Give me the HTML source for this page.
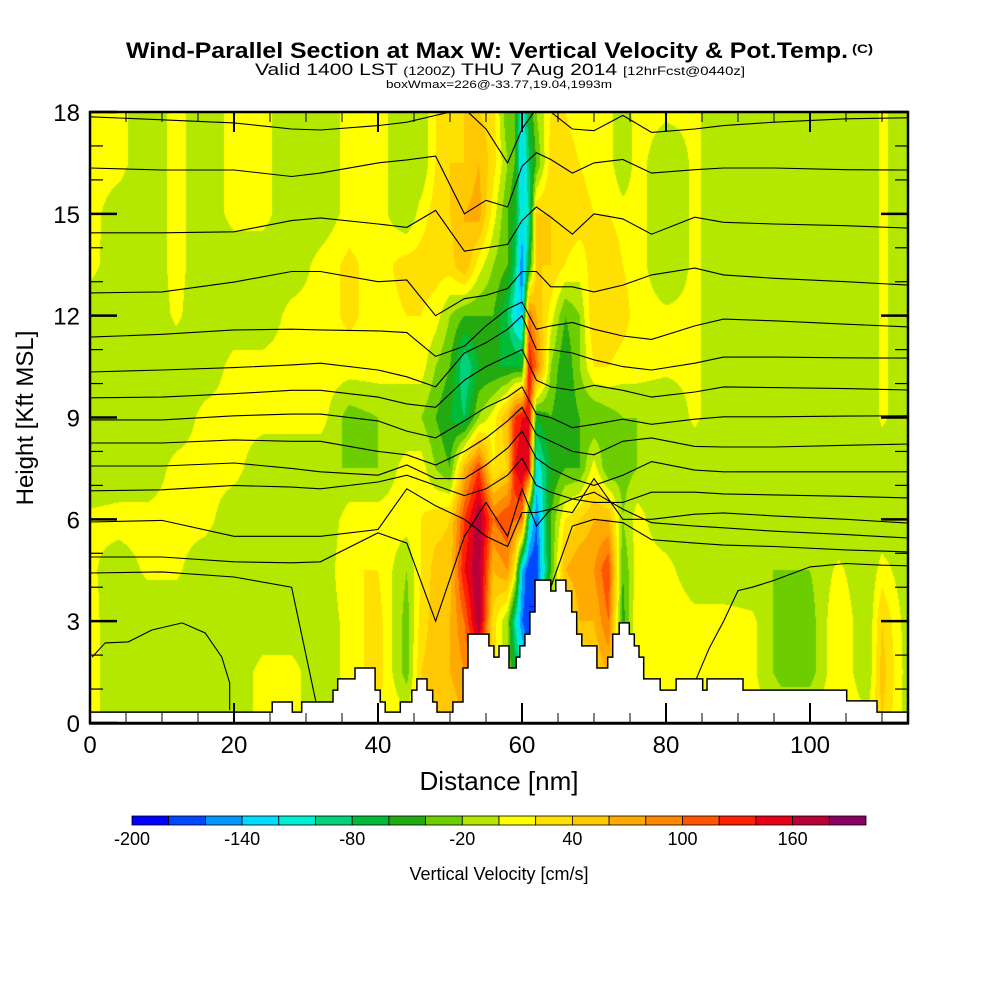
<!DOCTYPE html>
<html><head><meta charset="utf-8">
<style>
html,body{margin:0;padding:0;background:#fff;}
#wrap{position:relative;width:1000px;height:1000px;overflow:hidden;background:#fff;font-family:"Liberation Sans",sans-serif;}
#field{position:absolute;left:90px;top:112px;}
#over{position:absolute;left:0;top:0;}
</style></head>
<body>
<div id="wrap">
<canvas id="field" width="818" height="611"></canvas>
<svg id="over" width="1000" height="1000" xmlns="http://www.w3.org/2000/svg">
  <defs><clipPath id="plotClip"><rect x="90" y="112" width="818" height="611"/></clipPath></defs>
  <g id="contours" clip-path="url(#plotClip)" fill="none" stroke="#000" stroke-width="1.1"></g>
  <path id="terrain" fill="#fff" stroke="#000" stroke-width="1.5"></path>
  <g id="frame"></g>
  <g id="colorbar"></g>
  <text x="126" y="58" textLength="722" lengthAdjust="spacingAndGlyphs" font-size="22" font-weight="bold">Wind-Parallel Section at Max W: Vertical Velocity &amp; Pot.Temp.</text>
  <text x="852" y="53" textLength="21" lengthAdjust="spacingAndGlyphs" font-size="12" font-weight="bold">(C)</text>
  <text x="255" y="75" textLength="490" lengthAdjust="spacingAndGlyphs" font-size="17">Valid 1400 LST <tspan font-size="12">(1200Z)</tspan> THU 7 Aug 2014 <tspan font-size="12">[12hrFcst@0440z]</tspan></text>
  <text x="386" y="88" textLength="226" lengthAdjust="spacingAndGlyphs" font-size="11">boxWmax=226@-33.77,19.04,1993m</text>
  <text x="499" y="790" text-anchor="middle" font-size="26">Distance [nm]</text>
  <text transform="translate(33,418) rotate(-90)" text-anchor="middle" font-size="24">Height [Kft MSL]</text>
  <text x="499" y="880" text-anchor="middle" font-size="18">Vertical Velocity [cm/s]</text>
</svg>
</div>
<script>
// ---------- data ----------
const gridX = [0,4,8,12,16,20,24,28,32,36,40,44,46,48,50,52,54,56,58,59,60,61,62,64,66,68,70,72,74,76,80,84,88,92,96,100,104,108,110,114];
const gridZ = [0,1.5,3,4.5,6,7.5,9,10.5,12,13.5,15,16.5,18];
const wCols = [
[10,10,10,5,5,-20,-20,-20,-20,10,10,10,10],
[-20,-20,-20,-15,10,-20,-20,-20,-20,-20,-15,10,10],
[-20,-20,-20,5,10,-20,-20,-20,-20,-20,-20,-20,-20],
[-20,-20,-20,5,10,10,-20,-20,5,10,10,10,10],
[-20,-20,-20,-20,10,10,10,-20,-20,-20,-20,-20,-20],
[-20,-20,-20,-20,-20,10,10,10,-20,-20,10,10,10],
[10,10,-20,-20,-20,-20,10,10,-20,-20,10,10,10],
[10,10,-20,-20,-20,-20,10,10,10,-20,-20,-20,-20],
[-20,-20,-20,-20,-20,-20,10,10,10,10,-20,-20,-20],
[10,10,10,20,10,-20,-30,10,25,25,10,10,10],
[20,30,30,20,10,-20,-20,10,10,10,10,10,10],
[10,-30,-30,-20,10,10,-20,10,20,30,-20,-20,-20],
[30,40,30,20,20,10,-20,10,20,30,10,-20,-20],
[40,50,50,50,30,-20,-40,-20,10,30,30,20,20],
[40,60,60,50,40,-40,-60,-40,-20,30,40,40,30],
[60,80,100,140,120,60,-80,-100,-40,60,60,40,40],
[60,100,180,180,180,120,-20,-60,-40,10,70,60,40],
[30,30,30,60,100,20,10,-60,-40,-20,10,30,30],
[0,-20,-20,80,120,40,60,-60,-80,-40,-40,-20,-40],
[0,-60,-100,20,100,140,120,-60,-120,-80,-60,-40,-40],
[0,-100,-160,-140,100,160,140,-60,-140,-160,-120,-140,-120],
[0,-160,-180,-180,-100,140,140,140,100,-60,-100,-80,-60],
[0,-180,-180,-180,-160,-120,-60,100,60,40,40,-40,-20],
[0,0,0,-40,-40,-60,-40,-20,10,40,40,30,20],
[0,0,0,60,20,-40,-60,-60,-40,20,30,30,20],
[0,0,60,80,40,-40,-40,-20,-20,10,30,20,10],
[0,40,60,80,60,10,-40,20,40,30,20,10,10],
[0,60,100,120,60,-40,-30,20,40,40,20,10,10],
[0,-20,-50,-40,-20,-30,-20,10,30,20,10,-20,-20],
[10,20,20,10,10,-20,-20,10,10,10,10,10,10],
[10,10,20,10,-20,-20,-20,5,5,-20,-20,-20,5],
[10,10,10,-20,-20,-20,5,5,5,5,5,5,5],
[10,10,10,-20,-20,-20,-20,-20,-20,-20,-20,-20,-20],
[10,5,5,-20,-20,-20,-20,-20,-20,-20,-20,-20,-20],
[5,-30,-30,-20,-20,-20,-20,-20,-20,-20,-20,-20,-20],
[5,-30,-30,-20,-20,-20,-20,-20,-20,-20,-20,-20,-20],
[20,20,20,5,-20,-20,-20,-20,-20,-20,-20,-20,-20],
[5,-20,-20,-20,-20,-20,-20,-20,-20,-20,-20,-20,-20],
[40,50,40,10,-20,-20,5,5,5,5,5,5,5],
[-20,-20,-20,-20,-20,-20,-20,-20,-20,-20,-20,-20,-20]
];
const binColors = ["#0000ff","#0048ff","#0098ff","#00dcff","#00eed0","#00d27c","#00bb38","#22aa10","#6cce00","#b4e800","#ffff00","#ffe000","#ffc800","#ffaa00","#ff8800","#ff5500","#ff2000","#e80018","#b80038","#880066"];
const cbTicks = [-200,-140,-80,-20,40,100,160];
const terrainX = [0,25.3,28.1,29.4,33.75,34.4,36.8,39.6,40.3,41.0,43.1,44.7,45.4,46.8,47.6,48.2,50.4,51.8,52.5,55.4,56.1,56.8,58.2,59.2,59.7,60.4,61.1,61.8,64.0,64.7,66.1,66.9,67.6,68.3,70.4,71.9,72.6,73.5,74.9,75.6,76.25,76.9,79.2,81.4,85.1,85.7,90.7,105.1,109.3];
const terrainZ = [0.32,0.62,0.32,0.62,0.97,1.30,1.62,0.97,0.62,0.32,0.62,0.97,1.30,0.97,0.62,0.32,0.62,1.62,2.62,2.27,1.94,2.27,1.62,1.94,2.27,2.62,3.27,4.21,3.89,4.21,3.89,3.27,2.62,2.27,1.62,1.94,2.62,2.95,2.62,2.27,1.94,1.30,0.97,1.30,0.97,1.30,0.97,0.65,0.32];
const contourX = [0,10,20,28,32,40,44,48,52,55,58,60,62,64,67,70,74,78,84,88,95,105,113.6];
const theta1 = [17.86,17.77,17.68,17.5,17.47,17.6,17.7,17.9,18.1,17.5,16.5,17.5,18.1,18.0,17.5,17.45,17.9,17.4,17.5,17.6,17.7,17.8,17.83];
const theta2 = [16.35,16.29,16.29,16.1,16.2,16.5,16.59,16.7,15.0,15.4,15.2,16.4,16.8,16.6,16.2,16.5,16.6,16.2,16.3,16.35,16.35,16.3,16.29];
const theta3 = [14.44,14.44,14.47,14.8,14.88,14.7,14.6,15.1,13.9,14.0,14.1,14.8,15.2,14.9,14.4,15.0,14.85,14.4,14.9,14.75,14.7,14.65,14.58];
const theta4 = [12.67,12.7,12.99,13.3,13.3,13.0,13.05,12.0,12.5,12.6,12.8,13.3,13.3,12.85,12.85,12.7,12.9,13.2,13.4,13.2,13.1,13.0,12.9];
const theta5 = [11.37,11.45,11.58,11.6,11.58,11.55,11.5,10.8,11.1,11.7,12.2,12.4,11.6,11.7,11.8,11.6,11.4,11.3,11.7,11.9,11.85,11.75,11.67];
const theta6 = [10.34,10.4,10.47,10.55,10.6,10.4,10.2,9.9,10.9,11.2,11.6,12.0,11.0,11.0,10.9,10.7,10.5,10.4,10.6,10.78,10.78,10.76,10.75];
const theta7 = [9.58,9.6,9.7,9.8,9.8,9.6,9.4,9.3,10.1,10.5,10.8,11.0,10.1,9.9,9.8,9.95,9.8,9.6,9.75,9.9,9.88,9.85,9.81];
const theta8 = [8.93,8.93,9.05,9.1,9.1,8.9,8.6,8.4,8.9,9.3,9.6,9.9,9.1,9.0,8.7,8.8,8.95,8.8,8.95,9.02,9.02,9.04,9.05];
const theta9 = [8.25,8.25,8.34,8.3,8.3,8.0,7.9,7.6,8.0,8.4,8.9,9.3,8.5,8.3,8.0,7.9,8.3,8.4,8.15,8.13,8.13,8.18,8.22];
const theta10 = [7.57,7.57,7.66,7.5,7.4,7.3,7.6,7.2,7.2,7.6,8.1,8.6,7.8,7.5,7.2,7.0,7.3,7.7,7.45,7.4,7.4,7.4,7.4];
const theta11 = [6.84,6.87,7.0,6.95,6.9,7.1,7.3,7.0,6.7,6.9,7.3,7.8,7.0,6.8,6.6,6.5,6.5,6.8,6.8,6.75,6.72,6.68,6.63];
const theta12 = [5.92,5.97,5.5,5.5,5.5,5.7,6.9,6.4,6.0,5.5,5.2,6.2,6.2,6.3,6.2,7.2,6.0,6.0,6.15,6.19,6.1,6.0,5.89];
const theta13 = [4.89,4.89,4.75,4.72,4.75,5.6,5.3,3.0,5.5,6.5,5.5,6.9,5.8,6.3,6.6,6.8,6.3,5.9,5.8,5.75,5.65,5.55,5.45];
const theta14 = [4.42,4.45,4.3,4.0,0.0,null,null,null,null,null,null,null,null,4.0,5.8,6.0,5.9,5.4,5.3,5.24,5.2,5.1,5.04];
const theta15X = [84,86,88,90,92,95,100,105,110,113.6];
const theta15 = [1.2,2.2,3.0,3.9,4.0,4.2,4.6,4.7,4.65,4.63];
const theta16X = [0.3,2.1,5.3,8.6,12.8,16.0,18.3,19.4,19.4];
const theta16 = [1.94,2.36,2.39,2.74,2.95,2.65,1.94,1.18,0.38];
const xTicks = [0,20,40,60,80,100];
const yTicks = [0,3,6,9,12,15,18];

// ---------- scales ----------
const X0=90, X1=908, Y0=723, Y1=112;
const xPerNm=7.2, yPerK=(Y0-Y1)/18;
const xs = v => X0 + v*xPerNm;
const ys = v => Y0 - v*yPerK;
const NS="http://www.w3.org/2000/svg";

// ---------- field ----------
function hexToRgb(h){return [parseInt(h.substr(1,2),16),parseInt(h.substr(3,2),16),parseInt(h.substr(5,2),16)];}
const rgbBins = binColors.map(hexToRgb);
(function(){
  const cv=document.getElementById('field'), ctx=cv.getContext('2d');
  const W=cv.width,H=cv.height, img=ctx.createImageData(W,H);
  for(let px=0;px<W;px++){
    const nm=(px+0.5)/xPerNm;
    let i=0; while(i<gridX.length-2 && gridX[i+1]<nm) i++;
    const tx=Math.max(0,Math.min(1,(nm-gridX[i])/(gridX[i+1]-gridX[i])));
    for(let py=0;py<H;py++){
      const z=(H-py-0.5)/yPerK;
      let j=Math.min(gridZ.length-2,Math.floor(z/1.5));
      const tz=Math.max(0,Math.min(1,(z-gridZ[j])/(gridZ[j+1]-gridZ[j])));
      const a=wCols[i][j],b=wCols[i+1][j],c=wCols[i][j+1],d=wCols[i+1][j+1];
      const w=(a*(1-tx)+b*tx)*(1-tz)+(c*(1-tx)+d*tx)*tz;
      let k=Math.floor((w+200)/20); k=Math.max(0,Math.min(19,k));
      const col=rgbBins[k], o=(py*W+px)*4;
      img.data[o]=col[0];img.data[o+1]=col[1];img.data[o+2]=col[2];img.data[o+3]=255;
    }
  }
  ctx.putImageData(img,0,0);
})();

// ---------- contours ----------
function drawLine(xArr,zArr,name){
  let d="",pen=false;
  for(let k=0;k<xArr.length;k++){
    if(zArr[k]===null){pen=false;continue;}
    d+=(pen?"L":"M")+xs(xArr[k]).toFixed(1)+","+ys(zArr[k]).toFixed(1);
    pen=true;
  }
  const p=document.createElementNS(NS,'path');
  p.setAttribute('d',d);
  
  
  document.getElementById('contours').appendChild(p);
}
const thetaLines=[theta1,theta2,theta3,theta4,theta5,theta6,theta7,theta8,theta9,theta10,theta11,theta12,theta13,theta14];
thetaLines.forEach((arr,n)=>drawLine(contourX,arr,'theta-contour-'+(n+1)));
drawLine(theta15X,theta15,'theta-contour-15');
drawLine(theta16X,theta16,'theta-contour-16');

// ---------- terrain ----------
(function(){
  let d="M"+xs(0)+","+(Y0+1);
  for(let k=0;k<terrainX.length;k++){
    const xa=xs(terrainX[k]), xb=xs(k+1<terrainX.length?terrainX[k+1]:113.6);
    d+="L"+xa.toFixed(1)+","+ys(terrainZ[k]).toFixed(1)+"L"+xb.toFixed(1)+","+ys(terrainZ[k]).toFixed(1);
  }
  d+="L"+X1+","+(Y0+1)+"Z";
  document.getElementById('terrain').setAttribute('d',d);
})();

// ---------- frame & ticks ----------
(function(){
  const g=document.getElementById('frame');
  function add(tag,attrs,name){
    const e=document.createElementNS(NS,tag);
    for(const k in attrs) e.setAttribute(k,attrs[k]);
    
    
    g.appendChild(e); return e;
  }
  add('rect',{x:X0,y:Y1,width:X1-X0,height:Y0-Y1,fill:'none',stroke:'#000','stroke-width':2.5},'plot-border');
  for(let v=0;v<=113;v+=5){
    const major=v%20===0, L=major?20:10, x=xs(v);
    add('line',{x1:x,y1:Y0,x2:x,y2:Y0-L,stroke:'#000','stroke-width':major?2:1},'x-tick-bottom');
    add('line',{x1:x,y1:Y1,x2:x,y2:Y1+L,stroke:'#000','stroke-width':major?2:1},'x-tick-top');
  }
  for(let v=0;v<=18;v++){
    const major=v%3===0, L=major?27:13, y=ys(v);
    add('line',{x1:X0,y1:y,x2:X0+L,y2:y,stroke:'#000','stroke-width':major?2.5:1.2},'y-tick-left');
    add('line',{x1:X1,y1:y,x2:X1-L,y2:y,stroke:'#000','stroke-width':major?2.5:1.2},'y-tick-right');
  }
  xTicks.forEach(v=>{
    const t=add('text',{x:xs(v),y:753,'text-anchor':'middle','font-size':24},'x-tick-label');
    t.textContent=v;
  });
  yTicks.forEach(v=>{
    const t=add('text',{x:80,y:ys(v)+9,'text-anchor':'end','font-size':24},'y-tick-label');
    t.textContent=v;
  });
})();

// ---------- colorbar ----------
(function(){
  const g=document.getElementById('colorbar');
  const cx0=132,cw=36.7,cy=816,ch=9;
  binColors.forEach((c,k)=>{
    const r=document.createElementNS(NS,'rect');
    r.setAttribute('x',cx0+k*cw);r.setAttribute('y',cy);
    r.setAttribute('width',cw);r.setAttribute('height',ch);
    r.setAttribute('fill',c);r.setAttribute('stroke','#000');r.setAttribute('stroke-width','0.8');
    
    
    g.appendChild(r);
  });
  cbTicks.forEach(v=>{
    const t=document.createElementNS(NS,'text');
    t.setAttribute('x',cx0+(v+200)/20*cw);t.setAttribute('y',845);
    t.setAttribute('text-anchor','middle');t.setAttribute('font-size','18');
    
    
    t.textContent=v;
    g.appendChild(t);
  });
})();
</script>
</body></html>
